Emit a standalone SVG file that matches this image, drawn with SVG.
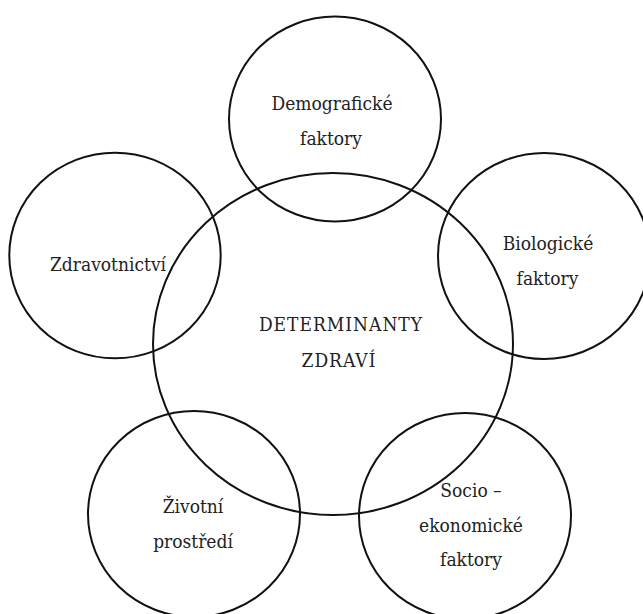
<svg xmlns="http://www.w3.org/2000/svg" width="643" height="614" viewBox="0 0 643 614">
<style>
.c{fill:none;stroke:#111;stroke-width:2}
.t{font-family:'DejaVu Serif Condensed','DejaVu Serif',serif;font-stretch:condensed;font-size:19px;fill:#222;text-anchor:middle}
.caps{letter-spacing:1px}
</style>
<rect width="643" height="614" fill="#fff"/>
<g id="center">
<ellipse class="c" cx="333" cy="344" rx="180" ry="171"/>
<text class="t caps" x="341" y="331">DETERMINANTY</text>
<text class="t caps" x="339" y="367">ZDRAVÍ</text>
</g>
<g id="demograficke">
<ellipse class="c" cx="335" cy="119" rx="106" ry="102.5"/>
<text class="t" x="332" y="110">Demografické</text>
<text class="t" x="331" y="145">faktory</text>
</g>
<g id="zdravotnictvi">
<ellipse class="c" cx="115" cy="255.5" rx="105.7" ry="102.8"/>
<text class="t" x="108" y="271">Zdravotnictví</text>
</g>
<g id="biologicke">
<ellipse class="c" cx="544" cy="256" rx="106" ry="103"/>
<text class="t" x="548" y="250">Biologické</text>
<text class="t" x="547.5" y="285">faktory</text>
</g>
<g id="zivotni">
<ellipse class="c" cx="194" cy="514" rx="106" ry="103"/>
<text class="t" x="193" y="513">Životní</text>
<text class="t" x="193" y="548">prostředí</text>
</g>
<g id="socio">
<ellipse class="c" cx="465" cy="516" rx="106" ry="103"/>
<text class="t" x="471" y="497">Socio –</text>
<text class="t" x="471" y="532">ekonomické</text>
<text class="t" x="471" y="566">faktory</text>
</g>
<g id="connectors"></g>
</svg>
